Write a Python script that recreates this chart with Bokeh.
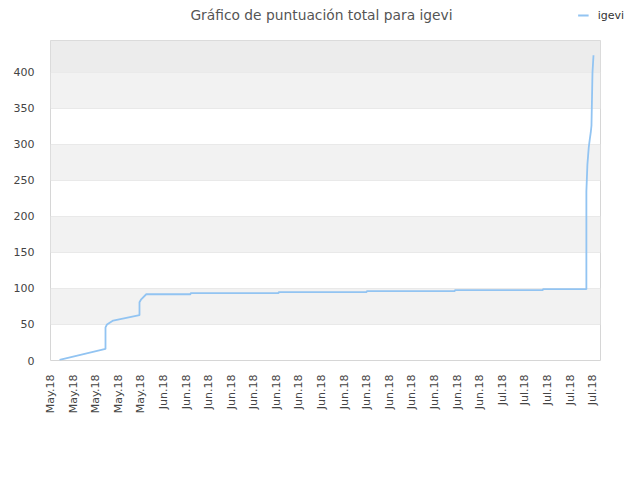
from bokeh.plotting import figure
from bokeh.models import (FixedTicker, Range1d, BoxAnnotation, Legend, LegendItem, Label)
from bokeh.layouts import column
from bokeh.embed import file_html
from bokeh.resources import INLINE
import math

# ---- data ----
title_text = "Gráfico de puntuación total para igevi"
series_name = "igevi"
tick_days = list(range(0, 49, 2))
tick_labels = ["May.18"] * 5 + ["Jun.18"] * 15 + ["Jul.18"] * 5
# day offset (from first tick) and total score
day = [0.8, 4.87, 4.87, 5.0, 5.55, 7.88, 7.88, 8.03, 8.48,
       12.4, 12.4, 20.2, 20.2, 28.0, 28.0, 35.8, 35.8, 43.6, 43.6,
       47.45, 47.45, 47.54, 47.66, 47.75, 47.84, 47.9, 47.99, 48.08]
score = [1, 16, 46, 50, 55.5, 63, 81, 85, 92,
         92, 93.5, 93.5, 95, 95, 96.3, 96.3, 97.7, 97.7, 99,
         99, 235, 272, 296, 307, 317, 326, 400, 424]
y_ticks = [0, 50, 100, 150, 200, 250, 300, 350, 400]

FONT = "DejaVu Sans"
LINE_COLOR = "#92c4f2"
LINE_W = 1.8
W = 632
HH = 32          # header (title + legend)
MH = 440         # main chart

# ---- header: title and legend ----
hdr = figure(width=W, height=HH, output_backend="svg", toolbar_location=None,
             title=None, x_axis_location=None, y_axis_location=None,
             x_range=Range1d(0, W), y_range=Range1d(0, HH),
             min_border=0, min_border_left=0, min_border_right=0,
             min_border_top=0, min_border_bottom=0)
hdr.frame_align = False
hdr.outline_line_color = None
hdr.grid.visible = False
hdr.background_fill_color = "white"
hdr.border_fill_color = "white"
hdr.add_layout(Label(x=321, y=HH - 14, text=title_text, text_align="center",
                     text_baseline="middle", text_font=FONT,
                     text_font_size="13.8px", text_color="#555555"))
# legend proxy carrying the series style (draws nothing itself)
proxy = hdr.line(x=[float("nan")], y=[float("nan")],
                 line_color=LINE_COLOR, line_width=LINE_W)
legend = Legend(items=[LegendItem(label=series_name, renderers=[proxy])],
                location="top_right", orientation="horizontal",
                padding=0, margin=8, spacing=0, glyph_width=11, glyph_height=14,
                label_height=14, label_standoff=9, label_text_font=FONT,
                label_text_font_size="11px", label_text_color="#333333",
                border_line_color=None, background_fill_alpha=0)
hdr.add_layout(legend, "center")

# ---- main chart ----
p = figure(width=W, height=MH, output_backend="svg", toolbar_location=None,
           title=None,
           x_range=Range1d(0, 48.7), y_range=Range1d(0, 444.4),
           min_border_left=50, min_border_right=W - 600,
           min_border_top=40 - HH, min_border_bottom=MH - (360 - HH))
p.frame_align = False
p.background_fill_color = "white"
p.border_fill_color = "white"
p.outline_line_color = "#d6d6d6"
p.outline_line_width = 1

# alternating bands
for b in y_ticks[1::2]:
    p.add_layout(BoxAnnotation(bottom=b, top=b + 50, fill_color="#f2f2f2",
                               fill_alpha=1, line_color=None, level="underlay"))
p.add_layout(BoxAnnotation(bottom=y_ticks[-1], fill_color="#ececec",
                           fill_alpha=1, line_color=None, level="underlay"))

p.xgrid.grid_line_color = None
p.ygrid.grid_line_color = "#e0e0e0"
p.ygrid.ticker = FixedTicker(ticks=y_ticks)

p.yaxis.ticker = FixedTicker(ticks=y_ticks)
p.xaxis.ticker = FixedTicker(ticks=tick_days)
p.xaxis.major_label_overrides = {d: l for d, l in zip(tick_days, tick_labels)}
p.xaxis.major_label_orientation = math.pi / 2
for ax in (p.xaxis, p.yaxis):
    ax.axis_line_color = None
    ax.major_tick_line_color = None
    ax.minor_tick_line_color = None
    ax.major_label_text_font = FONT
    ax.major_label_text_font_size = "11px"
    ax.major_label_text_color = "#444444"
p.yaxis.major_label_standoff = 10
p.xaxis.major_label_standoff = 8

p.line(day, score, line_color=LINE_COLOR, line_width=LINE_W)

layout = column(hdr, p, spacing=0)
open("out.html", "w").write(file_html(layout, INLINE))
